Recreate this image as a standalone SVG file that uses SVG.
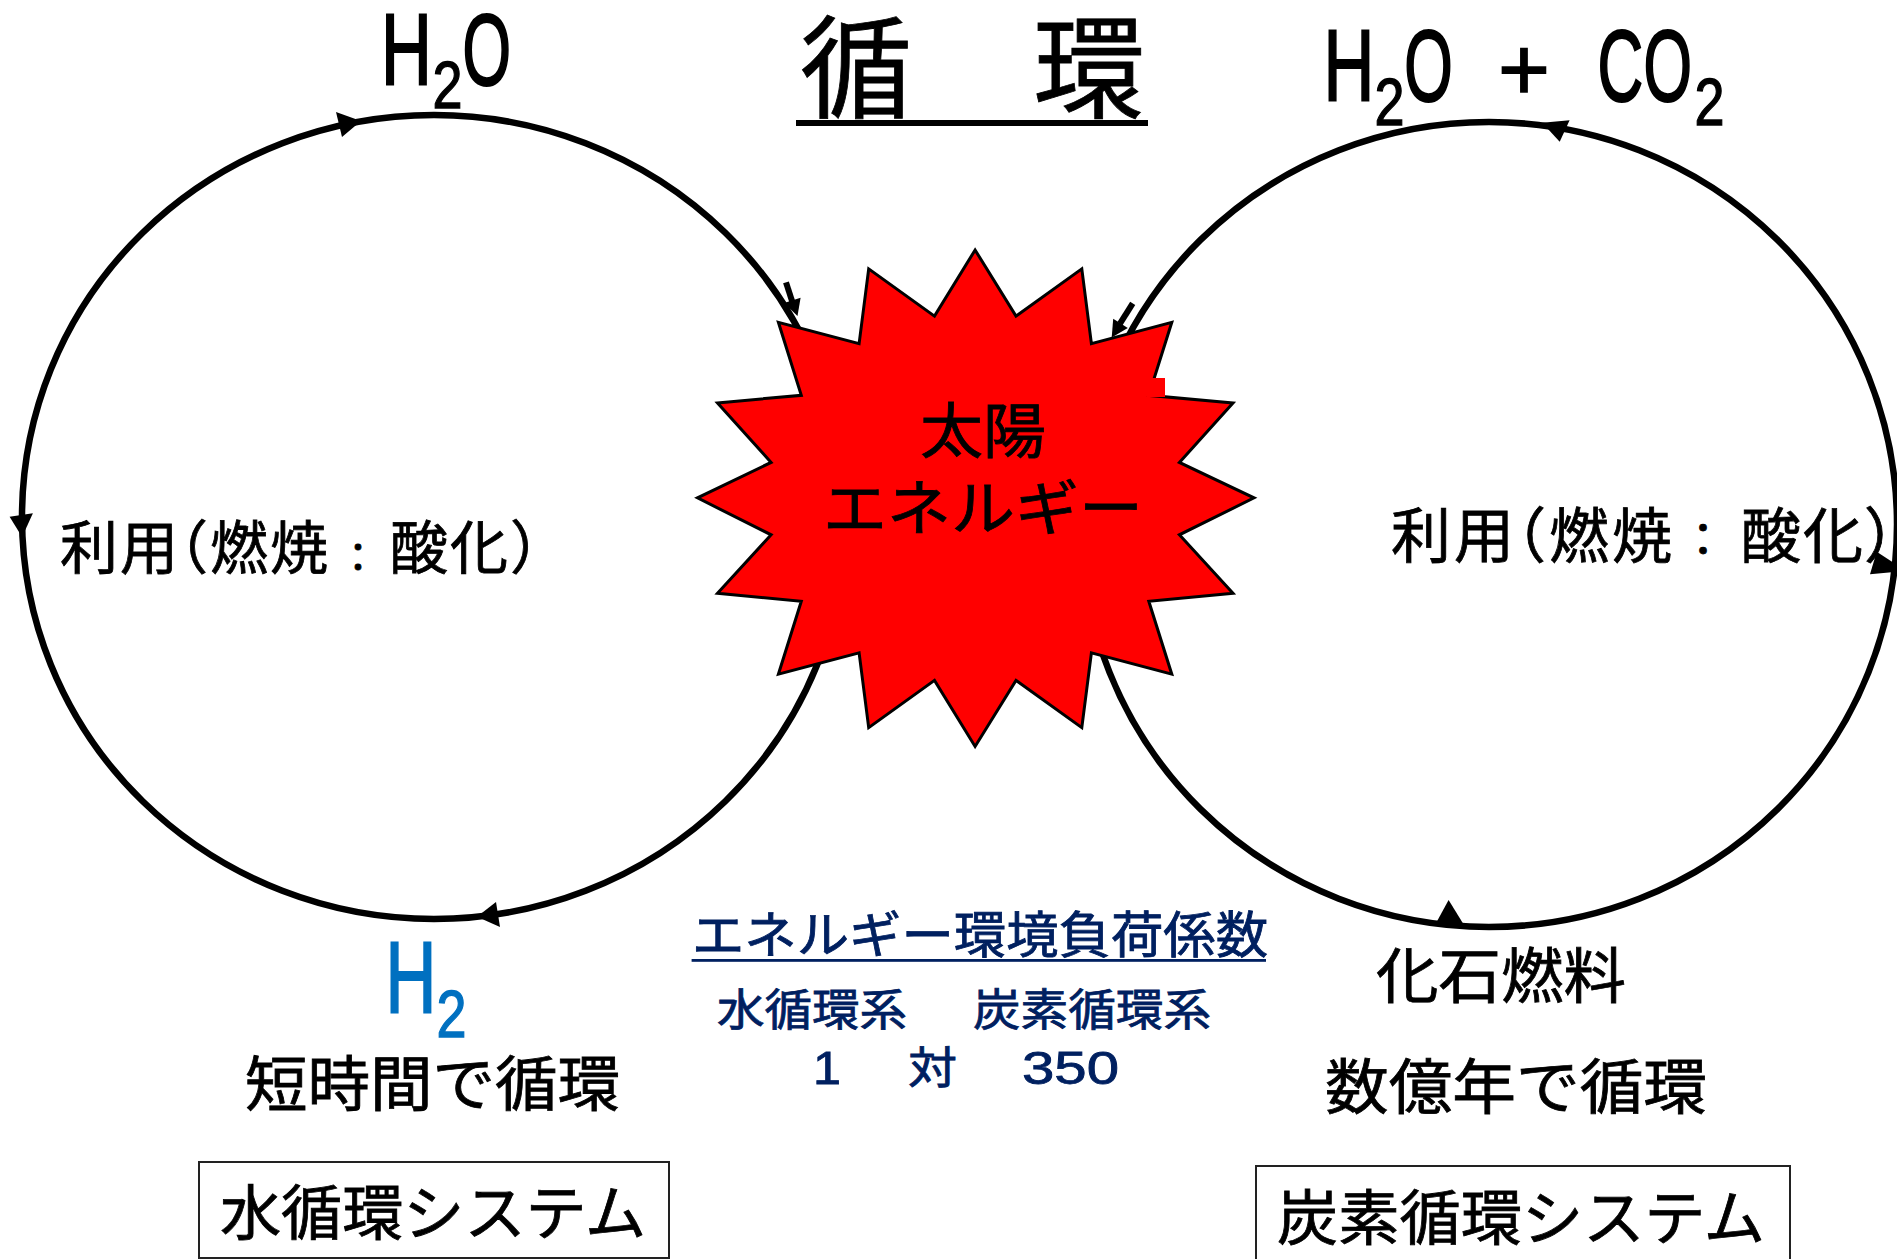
<svg xmlns="http://www.w3.org/2000/svg" width="1897" height="1259" viewBox="0 0 1897 1259">
<style>
text{font-family:"Noto Sans CJK JP","Liberation Sans",sans-serif;color:#000;fill:currentColor;stroke:currentColor;stroke-width:.8}
.l{font-family:"Liberation Sans","Noto Sans CJK JP",sans-serif}
.f{stroke-width:2.2}
.s{stroke-width:1.4}
.n{color:#002060}
.b{color:#0070c0}
.ring{fill:none;stroke:#000;stroke-width:6.5}
.head{fill:#000}
.frame{fill:#fff;stroke:#222;stroke-width:2}
</style>
<rect width="1897" height="1259" fill="#fff"/>
<g id="connectors">
<ellipse class="ring" cx="434" cy="517" rx="412" ry="402"/>
<ellipse class="ring" cx="1489" cy="524.5" rx="408" ry="402.5"/>
<polygon class="head" points="361,121 336,112 342,137"/>
<polygon class="head" points="9.6,516.7 32.9,513.3 22.1,537"/>
<polygon class="head" points="477,916.7 496,902 500,927"/>
<polygon class="head" points="1542.2,122.7 1569.6,120.3 1559.7,141.7"/>
<polygon class="head" points="1876.7,551.7 1870,574.3 1897,571.7 1897,565"/>
<polygon class="head" points="1448.6,900 1435,925 1464,925"/>
<line x1="786" y1="282.3" x2="793" y2="304" stroke="#000" stroke-width="6"/>
<polygon class="head" points="784.1,303 800.6,297.8 797.5,316.1"/>
<line x1="1132.7" y1="303.3" x2="1120" y2="323.7" stroke="#000" stroke-width="6"/>
<polygon class="head" points="1113.2,318.8 1127.8,328.1 1111.7,337.4"/>
</g>
<g id="sun">
<polygon fill="#f00" stroke="#000" stroke-width="3" points="975.1,250 1016,316.1 1081.8,268.9 1091.4,343.6 1171.8,322.3 1148.8,395.3 1233,402.9 1179.4,462.4 1254,497.9 1179.4,534.8 1233,593.3 1148.8,601.2 1171.8,674.2 1091.4,652.9 1081.8,727.6 1016,680.4 975.1,746.5 934.5,680.4 868.7,727.6 859.1,652.9 778.4,674.2 801.3,601.2 717.5,593.3 771.1,534.8 697.5,497.9 771.1,462.4 717.5,402.9 801.3,395.3 778.4,322.3 859.1,343.6 868.7,268.9 934.5,316.1"/>
<rect x="1147" y="378" width="18" height="19" fill="#f00"/>
<text x="920" y="453" font-size="60" textLength="126" lengthAdjust="spacingAndGlyphs">太陽</text>
<text x="823" y="530" font-size="60" textLength="320" lengthAdjust="spacingAndGlyphs">エネルギー</text>
</g>
<g id="title">
<text x="800" y="110" font-size="112">循</text>
<text x="1033" y="110" font-size="112">環</text>
<rect x="796" y="120" width="352" height="6" fill="#000"/>
</g>
<g id="h2o-left">
<text class="l f" x="381" y="85" font-size="102" textLength="50.9" lengthAdjust="spacingAndGlyphs">H</text>
<text class="l s" x="432.4" y="108" font-size="67" textLength="30" lengthAdjust="spacingAndGlyphs">2</text>
<text class="l f" x="462.5" y="85" font-size="102" textLength="48.5" lengthAdjust="spacingAndGlyphs">O</text>
</g>
<g id="h2o-co2">
<text class="l f" x="1323.5" y="101" font-size="102" textLength="50.9" lengthAdjust="spacingAndGlyphs">H</text>
<text class="l s" x="1374.4" y="125" font-size="67" textLength="30" lengthAdjust="spacingAndGlyphs">2</text>
<text class="l f" x="1404.3" y="101" font-size="102" textLength="48.5" lengthAdjust="spacingAndGlyphs">O</text>
<text class="l s" x="1498" y="99.7" font-size="89">+</text>
<text class="l f" x="1597.6" y="101" font-size="102" textLength="45.7" lengthAdjust="spacingAndGlyphs">C</text>
<text class="l f" x="1643.4" y="101" font-size="102" textLength="48.5" lengthAdjust="spacingAndGlyphs">O</text>
<text class="l s" x="1694.4" y="125" font-size="67" textLength="30" lengthAdjust="spacingAndGlyphs">2</text>
</g>
<g id="use-left">
<text y="569" font-size="58" x="60 120 150 210 270">利用（燃焼</text>
<text x="338" y="572" font-size="40">：</text>
<text y="569" font-size="58" x="390 450 510">酸化）</text>
</g>
<g id="use-right">
<text y="558" font-size="60" x="1391 1454 1486 1549 1612">利用（燃焼</text>
<text x="1680" y="556" font-size="46">：</text>
<text y="558" font-size="60" x="1741 1803 1864">酸化）</text>
</g>
<g id="h2">
<text class="l f b" x="385.5" y="1013" font-size="102" textLength="50.9" lengthAdjust="spacingAndGlyphs">H</text>
<text class="l s b" x="436.4" y="1037" font-size="67" textLength="30" lengthAdjust="spacingAndGlyphs">2</text>
</g>
<g id="short-cycle">
<text x="245" y="1106" font-size="60" textLength="375" lengthAdjust="spacingAndGlyphs">短時間で循環</text>
</g>
<g id="water-system">
<rect class="frame" x="199" y="1162" width="470" height="96"/>
<text x="220" y="1235" font-size="60" textLength="426" lengthAdjust="spacingAndGlyphs">水循環システム</text>
</g>
<g id="coefficient">
<text class="n" x="692" y="953" font-size="50" textLength="576" lengthAdjust="spacingAndGlyphs">エネルギー環境負荷係数</text>
<rect x="691.6" y="959" width="574.4" height="2.8" fill="#002060"/>
<text class="n" x="717" y="1026" font-size="44" textLength="190" lengthAdjust="spacingAndGlyphs">水循環系</text>
<text class="n" x="973" y="1026" font-size="44" textLength="238" lengthAdjust="spacingAndGlyphs">炭素循環系</text>
<text class="l n" x="813" y="1084" font-size="46" textLength="28" lengthAdjust="spacingAndGlyphs">1</text>
<text class="n" x="908" y="1084" font-size="44" textLength="49" lengthAdjust="spacingAndGlyphs">対</text>
<text class="l n" x="1022" y="1084" font-size="46" textLength="97" lengthAdjust="spacingAndGlyphs">350</text>
</g>
<g id="fossil">
<text x="1376" y="998" font-size="60" textLength="250" lengthAdjust="spacingAndGlyphs">化石燃料</text>
</g>
<g id="long-cycle">
<text x="1325" y="1109" font-size="60" textLength="382" lengthAdjust="spacingAndGlyphs">数億年で循環</text>
</g>
<g id="carbon-system">
<rect class="frame" x="1256" y="1166" width="534" height="100"/>
<text x="1277" y="1240" font-size="60" textLength="488" lengthAdjust="spacingAndGlyphs">炭素循環システム</text>
</g>
</svg>
